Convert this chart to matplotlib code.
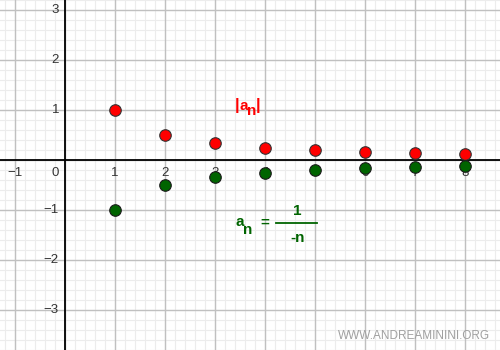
import matplotlib
matplotlib.use("Agg")
import matplotlib.pyplot as plt
import numpy as np

n_vals = [1, 2, 3, 4, 5, 6, 7, 8]
abs_an = [1.0, 0.5, 0.333, 0.25, 0.2, 0.167, 0.143, 0.125]
an = [-1.0, -0.5, -0.333, -0.25, -0.2, -0.167, -0.143, -0.125]
x_ticks = [-1, 0, 1, 2, 3, 4, 5, 6, 7, 8]
y_ticks = [-3, -2, -1, 1, 2, 3]

plt.rcParams['font.family'] = ['Liberation Sans', 'DejaVu Sans']

fig = plt.figure(figsize=(5, 3.5), dpi=100)
ax = fig.add_axes([0, 0, 1, 1])
xmin, xmax, ymin, ymax = -1.3, 8.7, -3.8, 3.2
ax.set_xlim(xmin, xmax)
ax.set_ylim(ymin, ymax)
for s in ax.spines.values():
    s.set_visible(False)
ax.set_xticks([])
ax.set_yticks([])

# grid
for v in np.arange(-1.2, 8.8, 0.2):
    ax.axvline(v, color="#ececec", lw=0.8, zorder=0)
for v in np.arange(-3.8, 3.3, 0.2):
    ax.axhline(v, color="#ececec", lw=0.8, zorder=0)
for v in range(-1, 9):
    ax.axvline(v, color="#c0c0c0", lw=1.0, zorder=1)
for v in range(-3, 4):
    ax.axhline(v, color="#c0c0c0", lw=1.0, zorder=1)
ax.axhline(0, color="black", lw=1.3, zorder=2)
ax.axvline(0, color="black", lw=1.3, zorder=2)

# tick labels
for t in x_ticks:
    if t == 0:
        ax.text(-0.2, -0.26, "0", ha="center", va="center", fontsize=9.5, color="#333333", zorder=3)
    else:
        ax.text(t, -0.26, str(t).replace("-", "\u2212"), ha="center", va="center",
                fontsize=9.5, color="#333333", zorder=3)
for t in y_ticks:
    ax.text(-0.12, t, str(t).replace("-", "\u2212"), ha="right", va="center",
            fontsize=9.5, color="#333333", zorder=3)

# points
ax.plot(n_vals, abs_an, "o", ms=8.3, mfc="#ff0000", mec="#333333", mew=0.8, zorder=5)
ax.plot(n_vals, an, "o", ms=8.3, mfc="#006400", mec="#1a1a1a", mew=0.8, zorder=5)

red = "#ff0000"
grn = "#006400"
kw = dict(ha="center", va="center", fontweight="bold", zorder=6)
# |a_n|
ax.text(3.45, 1.1, "|", color=red, fontsize=12, **kw)
ax.text(3.58, 1.08, "a", color=red, fontsize=11, **kw)
ax.text(3.73, 0.99, "n", color=red, fontsize=11, **kw)
ax.text(3.87, 1.1, "|", color=red, fontsize=12, **kw)
# a_n = 1 / -n
ax.text(3.5, -1.24, "a", color=grn, fontsize=11, **kw)
ax.text(3.65, -1.4, "n", color=grn, fontsize=11, **kw)
ax.text(4.0, -1.26, "=", color=grn, fontsize=11, **kw)
ax.plot([4.22, 5.04], [-1.26, -1.26], color=grn, lw=1.3, zorder=6)
ax.text(4.64, -1.02, "1", color=grn, fontsize=11, **kw)
ax.text(4.66, -1.56, "-n", color=grn, fontsize=11, **kw)

fig.text(0.828, 0.04, "WWW.ANDREAMININI.ORG", color="#a0a0a0", fontsize=8.5,
         ha="center", va="center")

fig.savefig("out.png", dpi=100)
